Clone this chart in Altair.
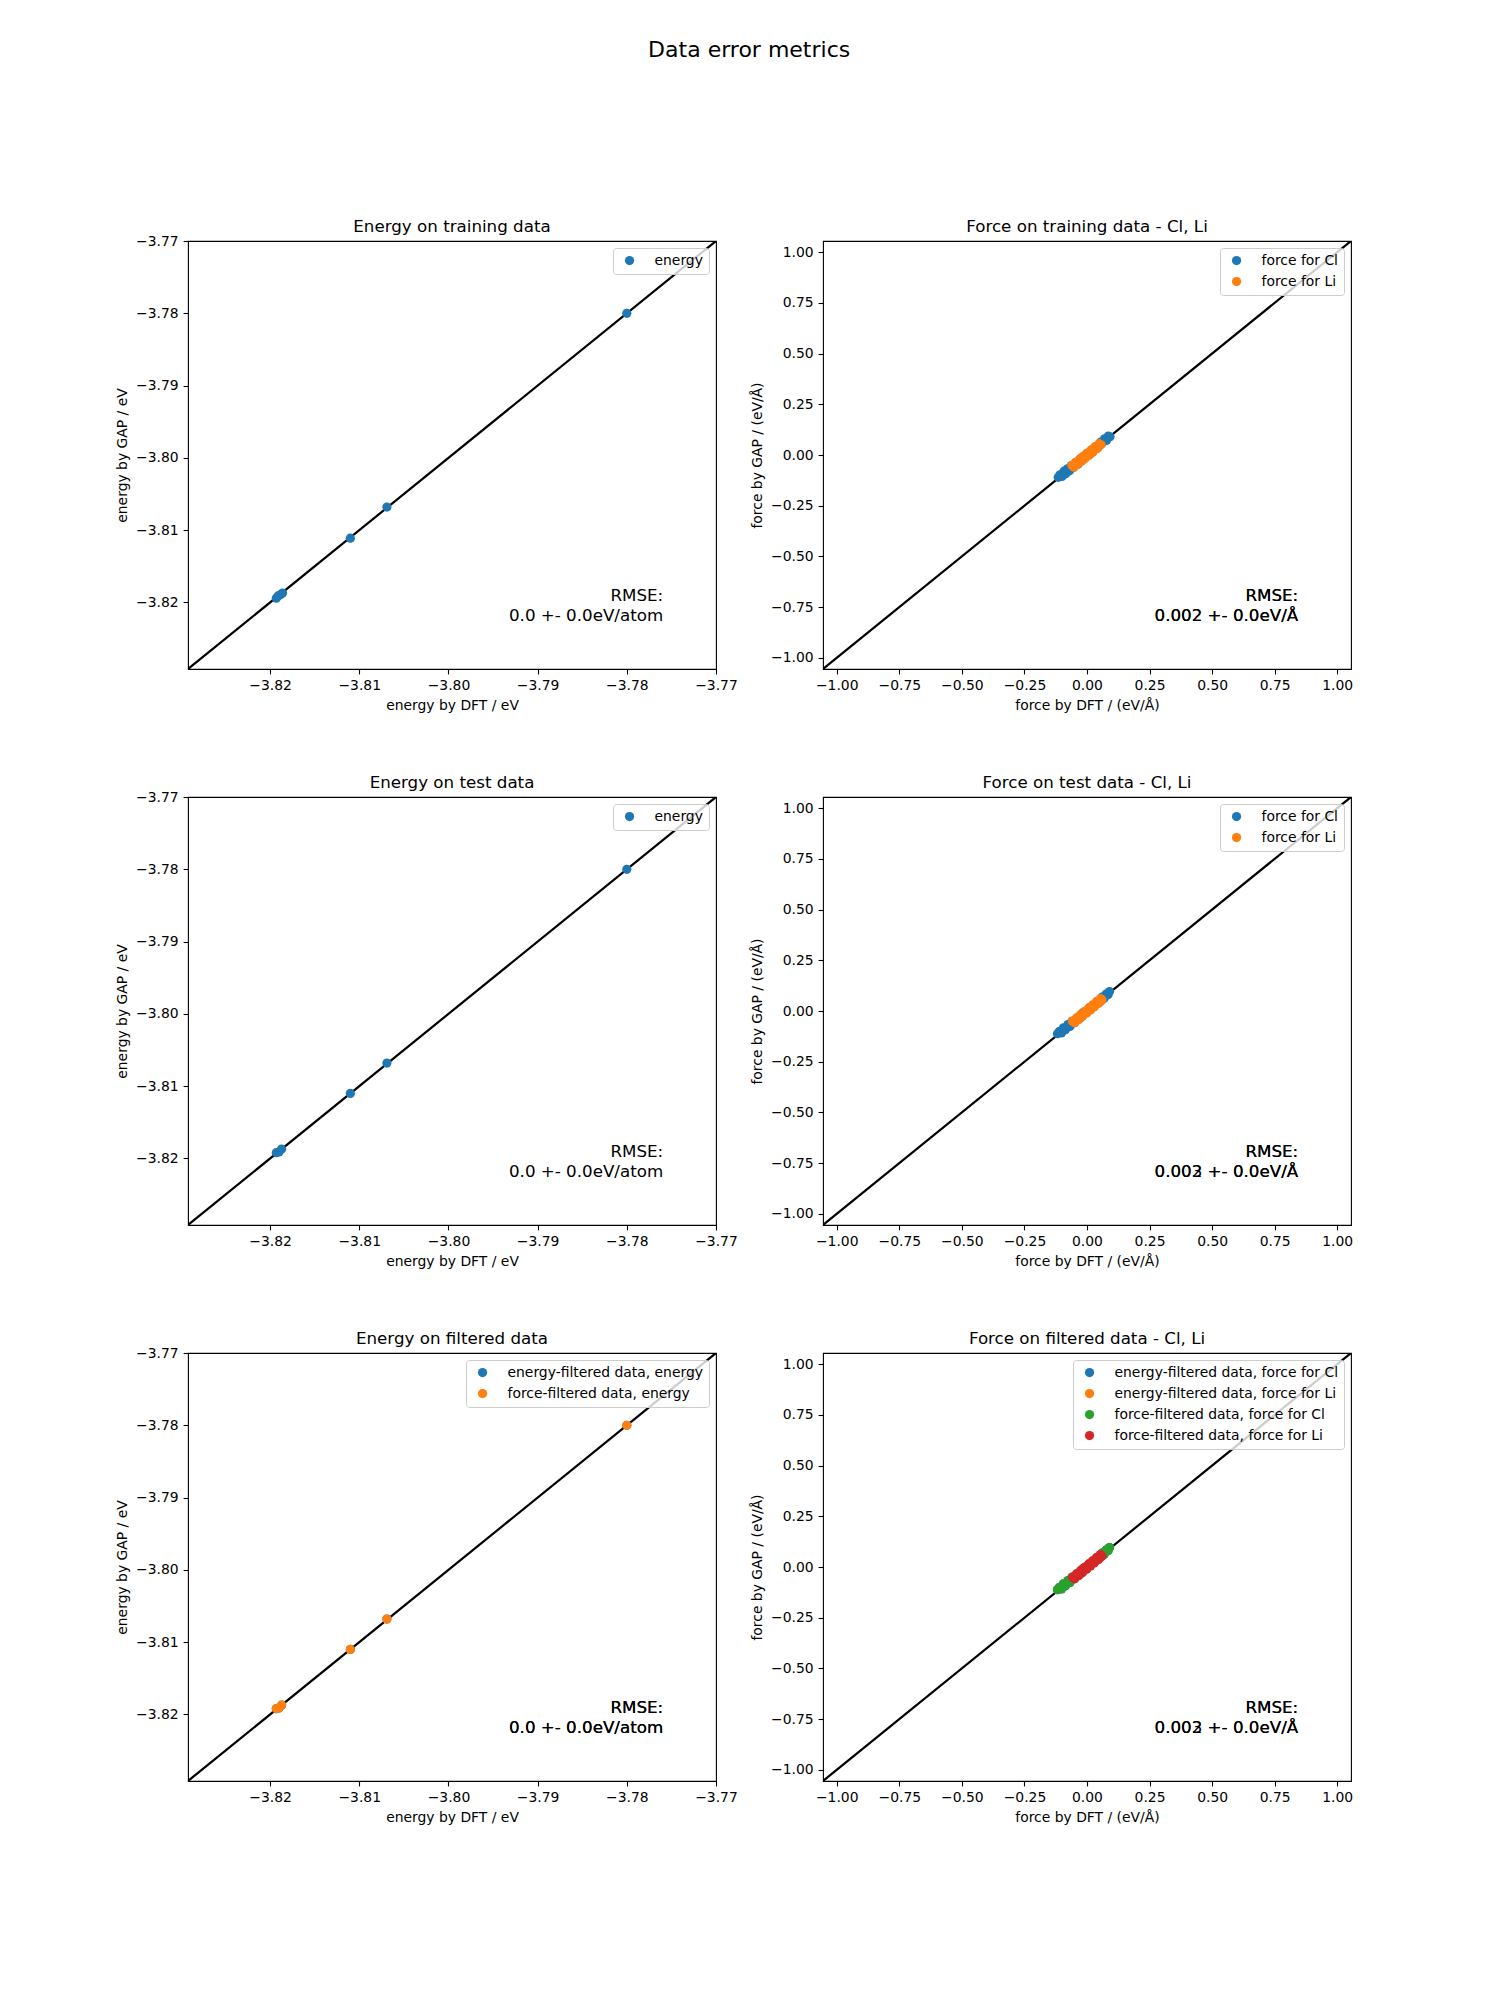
import altair as alt
import pandas as pd

FONT = "DejaVu Sans"

# ---------------- axis limits and ticks ----------------
E_LIM = [-3.8292, -3.7700]
F_LIM = [-1.055, 1.055]
E_TICKS = [-3.82, -3.81, -3.80, -3.79, -3.78, -3.77]
F_TICKS = [-1.00, -0.75, -0.50, -0.25, 0.00, 0.25, 0.50, 0.75, 1.00]

# ---------------- energy data ----------------
energy_train_dft = [-3.8193, -3.8191, -3.8186, -3.8188, -3.8110, -3.8069, -3.7800]
energy_train_gap = [-3.8194, -3.8191, -3.8187, -3.8189, -3.8111, -3.8068, -3.7800]
energy_test_dft = [-3.8193, -3.8190, -3.8187, -3.8110, -3.8069, -3.7800]
energy_test_gap = [-3.8192, -3.8191, -3.8187, -3.8110, -3.8068, -3.7800]
energy_efilt_dft = [-3.8193, -3.8190, -3.8187, -3.8110, -3.8069, -3.7800]
energy_efilt_gap = [-3.8192, -3.8191, -3.8187, -3.8110, -3.8068, -3.7800]
energy_ffilt_dft = [-3.8193, -3.8190, -3.8187, -3.8110, -3.8069, -3.7800]
energy_ffilt_gap = [-3.8192, -3.8191, -3.8187, -3.8110, -3.8068, -3.7800]

# ---------------- force data ----------------
force_cl_train_dft = [-0.115, -0.108, -0.100, -0.092, -0.085, -0.078, -0.070, -0.062, -0.055, -0.045,
                      -0.035, -0.025, -0.015, 0.000, 0.015, 0.030, 0.045, 0.055, 0.062, 0.070, 0.078, 0.085, 0.092]
force_cl_train_gap = [-0.110, -0.098, -0.106, -0.080, -0.093, -0.068, -0.078, -0.052, -0.062, -0.037,
                      -0.044, -0.017, -0.022, 0.007, 0.007, 0.035, 0.040, 0.064, 0.060, 0.080, 0.072, 0.093, 0.090]
force_li_train_dft = [-0.060, -0.052, -0.045, -0.038, -0.030, -0.022, -0.015, -0.008, 0.000, 0.008,
                      0.016, 0.024, 0.032, 0.040, 0.048, 0.056]
force_li_train_gap = [-0.052, -0.060, -0.036, -0.047, -0.021, -0.031, -0.006, -0.017, 0.009, -0.002,
                      0.025, 0.015, 0.041, 0.031, 0.056, 0.050]

force_cl_test_dft = [-0.118, -0.110, -0.102, -0.094, -0.086, -0.076, -0.068, -0.060, -0.050, -0.040,
                     -0.028, -0.015, 0.000, 0.012, 0.026, 0.040, 0.052, 0.060, 0.068, 0.076, 0.084, 0.090]
force_cl_test_gap = [-0.112, -0.100, -0.108, -0.083, -0.093, -0.067, -0.076, -0.051, -0.058, -0.034,
                     -0.036, -0.008, -0.006, 0.018, 0.020, 0.047, 0.046, 0.068, 0.062, 0.083, 0.080, 0.096]
force_li_test_dft = [-0.058, -0.050, -0.042, -0.034, -0.026, -0.018, -0.010, -0.002, 0.006, 0.014,
                     0.022, 0.030, 0.038, 0.046, 0.054, 0.060]
force_li_test_gap = [-0.050, -0.058, -0.034, -0.043, -0.018, -0.027, -0.002, -0.011, 0.014, 0.005,
                     0.030, 0.021, 0.046, 0.037, 0.061, 0.054]

force_cl_efilt_dft = force_cl_test_dft
force_cl_efilt_gap = force_cl_test_gap
force_li_efilt_dft = force_li_test_dft
force_li_efilt_gap = force_li_test_gap
force_cl_ffilt_dft = [-0.118, -0.110, -0.102, -0.094, -0.086, -0.076, -0.068, -0.060, -0.050, -0.040,
                      -0.028, -0.015, 0.000, 0.012, 0.026, 0.040, 0.052, 0.060, 0.068, 0.076, 0.084, 0.090]
force_cl_ffilt_gap = [-0.112, -0.100, -0.108, -0.083, -0.093, -0.067, -0.076, -0.051, -0.058, -0.034,
                      -0.036, -0.008, -0.006, 0.018, 0.020, 0.047, 0.046, 0.068, 0.062, 0.083, 0.080, 0.096]
force_li_ffilt_dft = [-0.058, -0.050, -0.042, -0.034, -0.026, -0.018, -0.010, -0.002, 0.006, 0.014,
                      0.022, 0.030, 0.038, 0.046, 0.054, 0.060]
force_li_ffilt_gap = [-0.050, -0.058, -0.034, -0.043, -0.018, -0.027, -0.002, -0.011, 0.014, 0.005,
                      0.030, 0.021, 0.046, 0.037, 0.061, 0.054]

# ---------------- RMSE annotations ----------------
rmse_energy_train = [0.0]
rmse_energy_test = [0.0]
rmse_energy_filt = [0.0, 0.0]
rmse_force_train = [0.002, 0.002]
rmse_force_test = [0.002, 0.003]
rmse_force_filt = [0.002, 0.003]

# ---------------- labels ----------------
TITLES = ["Energy on training data", "Force on training data - Cl, Li",
          "Energy on test data", "Force on test data - Cl, Li",
          "Energy on filtered data", "Force on filtered data - Cl, Li"]
E_XLABEL = "energy by DFT / eV"
E_YLABEL = "energy by GAP / eV"
F_XLABEL = "force by DFT / (eV/Å)"
F_YLABEL = "force by GAP / (eV/Å)"
COLORS = ["#1f77b4", "#ff7f0e", "#2ca02c", "#d62728"]

W, H = 528, 428
PT_SIZE = 85


def series_df(pairs):
    rows = []
    for name, xs, ys in pairs:
        for a, b in zip(xs, ys):
            rows.append({"dft": a, "gap": b, "series": name})
    return pd.DataFrame(rows)


def panel(title, pairs, lim, ticks, xlabel, ylabel, rmse_vals, unit, fmt, title_offset):
    names = [p[0] for p in pairs]
    xs = alt.Scale(domain=lim, nice=False, zero=False)
    ys = alt.Scale(domain=lim, nice=False, zero=False)
    xax = alt.Axis(values=ticks, format=".2f", title=xlabel)
    yax = alt.Axis(values=ticks, format=".2f", title=ylabel)

    line = alt.Chart(pd.DataFrame({"dft": lim, "gap": lim})).mark_line(
        color="black", strokeWidth=2.2, clip=True
    ).encode(
        x=alt.X("dft:Q", scale=xs, axis=xax),
        y=alt.Y("gap:Q", scale=ys, axis=yax),
    )
    pts = alt.Chart(series_df(pairs)).mark_circle(size=PT_SIZE, opacity=1, clip=True).encode(
        x=alt.X("dft:Q", scale=xs, axis=xax),
        y=alt.Y("gap:Q", scale=ys, axis=yax),
        color=alt.Color(
            "series:N",
            scale=alt.Scale(domain=names, range=COLORS[: len(names)]),
            legend=alt.Legend(title=None, orient="top-right"),
        ),
    )
    layers = [line, pts]
    for v in rmse_vals:
        txt = "RMSE:\n" + (fmt.format(v)) + " +- 0.0" + unit
        layers.append(
            alt.Chart(pd.DataFrame({"t": [txt]})).mark_text(
                align="right", baseline="bottom", font=FONT, fontSize=16.7,
                lineBreak="\n", lineHeight=20, color="black"
            ).encode(x=alt.value(0.9 * W), y=alt.value(0.9 * H - 21), text="t:N")
        )
    return alt.layer(*layers).properties(
        width=W, height=H,
        title=alt.TitleParams(title, fontSize=16.7, font=FONT, fontWeight="normal",
                              color="black", offset=title_offset, anchor="middle"),
    )


p1 = panel(TITLES[0], [("energy", energy_train_dft, energy_train_gap)],
           E_LIM, E_TICKS, E_XLABEL, E_YLABEL, rmse_energy_train, "eV/atom", "{:.1f}", -2)
p2 = panel(TITLES[1], [("force for Cl", force_cl_train_dft, force_cl_train_gap),
                       ("force for Li", force_li_train_dft, force_li_train_gap)],
           F_LIM, F_TICKS, F_XLABEL, F_YLABEL, rmse_force_train, "eV/Å", "{:.3f}", 5.5)
p3 = panel(TITLES[2], [("energy", energy_test_dft, energy_test_gap)],
           E_LIM, E_TICKS, E_XLABEL, E_YLABEL, rmse_energy_test, "eV/atom", "{:.1f}", -2)
p4 = panel(TITLES[3], [("force for Cl", force_cl_test_dft, force_cl_test_gap),
                       ("force for Li", force_li_test_dft, force_li_test_gap)],
           F_LIM, F_TICKS, F_XLABEL, F_YLABEL, rmse_force_test, "eV/Å", "{:.3f}", 5.5)
p5 = panel(TITLES[4], [("energy-filtered data, energy", energy_efilt_dft, energy_efilt_gap),
                       ("force-filtered data, energy", energy_ffilt_dft, energy_ffilt_gap)],
           E_LIM, E_TICKS, E_XLABEL, E_YLABEL, rmse_energy_filt, "eV/atom", "{:.1f}", -2)
p6 = panel(TITLES[5], [("energy-filtered data, force for Cl", force_cl_efilt_dft, force_cl_efilt_gap),
                       ("energy-filtered data, force for Li", force_li_efilt_dft, force_li_efilt_gap),
                       ("force-filtered data, force for Cl", force_cl_ffilt_dft, force_cl_ffilt_gap),
                       ("force-filtered data, force for Li", force_li_ffilt_dft, force_li_ffilt_gap)],
           F_LIM, F_TICKS, F_XLABEL, F_YLABEL, rmse_force_filt, "eV/Å", "{:.3f}", 5.5)


chart = alt.concat(p1, p2, p3, p4, p5, p6, columns=2, spacing={"row": 128, "column": 107},
                   bounds="flush").resolve_scale(
    x="independent", y="independent", color="independent"
).resolve_legend(color="independent").properties(
    title=alt.TitleParams("Data error metrics", fontSize=22, font=FONT, fontWeight="normal",
                          color="black", anchor="middle", offset=156.5, dx=15),
    padding={"left": 107, "top": 30, "right": 10, "bottom": 10},
    background="white",
).configure_view(
    stroke="black", strokeWidth=1.1
).configure_axis(
    labelFont=FONT, labelFontSize=13.9, labelColor="black",
    titleFont=FONT, titleFontSize=13.9, titleFontWeight="normal", titleColor="black",
    tickColor="black", tickSize=4.9, tickWidth=1.1, labelPadding=4.9,
    domain=False, grid=False, labelFlush=False, labelOverlap=False, labelBound=False,
    titlePadding=6,
).configure_legend(
    labelFont=FONT, labelFontSize=13.9, labelColor="black", labelLimit=0,
    symbolType="circle", symbolSize=PT_SIZE, symbolStrokeWidth=0, symbolOpacity=1,
    strokeColor="#cccccc", fillColor="rgba(255,255,255,0.8)", cornerRadius=3,
    padding=5.6, offset=7, rowPadding=6, symbolOffset=4, labelOffset=18,
)

chart.save("out.html", embed_options={"renderer": "svg", "actions": False})
